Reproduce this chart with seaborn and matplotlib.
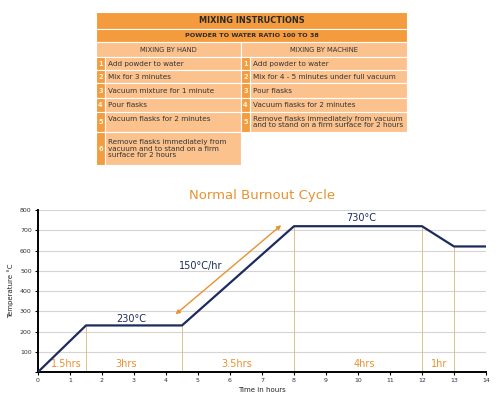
import matplotlib
matplotlib.use("Agg")
import matplotlib.pyplot as plt
import pandas as pd
import seaborn as sns
from matplotlib.patches import Rectangle

# burnout cycle data
time_hrs = [0, 1.5, 4.5, 8, 12, 13, 14]
temp_c = [0, 230, 230, 720, 720, 620, 620]
stage_edges = [1.5, 4.5, 8, 12, 13]
stage_labels = ["1.5hrs", "3hrs", "3.5hrs", "4hrs", "1hr"]
stage_label_x = [0.9, 2.75, 6.2, 10.2, 12.55]
point_labels = ["230°C", "730°C", "150°C/hr"]
point_label_xy = [(2.9, 262), (10.1, 762), (5.1, 525)]
arrow_from = (4.3, 285)
arrow_to = (7.6, 725)

# mixing instructions table
by_hand = ["Add powder to water", "Mix for 3 minutes", "Vacuum mixture for 1 minute",
           "Pour flasks", "Vacuum flasks for 2 minutes",
           "Remove flasks immediately from\nvacuum and to stand on a firm\nsurface for 2 hours"]
by_machine = ["Add powder to water", "Mix for 4 - 5 minutes under full vacuum", "Pour flasks",
              "Vacuum flasks for 2 minutes",
              "Remove flasks immediately from vacuum\nand to stand on a firm surface for 2 hours"]

NAVY = "#1c2a5e"
ORANGE = "#e8922f"
TAN = "#dcc08c"
HEAD = "#f39b3d"
PEACH = "#fbc28e"
NUMC = "#f49c40"

sns.set_theme(style="white")
plt.rcParams["font.family"] = ["DejaVu Sans"]

fig = plt.figure(figsize=(5, 4.01), dpi=100)

# ---- table drawn with patches, coordinates in pixels
tab = fig.add_axes([0.192, 0.5885, 0.622, 0.3815])
tab.set_xlim(0, 311)
tab.set_ylim(153, 0)
tab.axis("off")

def cell(x0, y0, w, h, color):
    tab.add_patch(Rectangle((x0, y0), w, h, facecolor=color, edgecolor="white", lw=0.8))

cell(0, 0, 311, 17, HEAD)
tab.text(155.5, 8.5, "MIXING INSTRUCTIONS", ha="center", va="center", fontsize=5.9,
         fontweight="bold", color="#2a2a2a")
cell(0, 17, 311, 13, HEAD)
tab.text(155.5, 23.5, "POWDER TO WATER RATIO 100 TO 38", ha="center", va="center",
         fontsize=4.6, fontweight="bold", color="#2a2a2a")
cell(0, 30, 145, 15, PEACH)
cell(145, 30, 166, 15, PEACH)
tab.text(72.5, 37.5, "MIXING BY HAND", ha="center", va="center", fontsize=4.9, color="#333333")
tab.text(228, 37.5, "MIXING BY MACHINE", ha="center", va="center", fontsize=4.9, color="#333333")

row_tops = [45, 58, 71, 86, 100, 120]
row_h = [13, 13, 15, 14, 20, 33]
for col_x, col_w, items in [(0, 145, by_hand), (145, 166, by_machine)]:
    for i, txt in enumerate(items):
        y0, h = row_tops[i], row_h[i]
        cell(col_x, y0, 9, h, NUMC)
        cell(col_x + 9, y0, col_w - 9, h, PEACH)
        tab.text(col_x + 4.5, y0 + h / 2, str(i + 1), ha="center", va="center",
                 fontsize=4.8, fontweight="bold", color="#fff3d6")
        nl = txt.count("\n") + 1
        ty = y0 + h / 2 if nl > 1 or h < 16 else y0 + 6.5
        tab.text(col_x + 12, ty, txt, ha="left", va="center", fontsize=5.2,
                 color="#333333", linespacing=1.1)

# ---- burnout chart
ax = fig.add_axes([0.076, 0.0723, 0.896, 0.404])
df = pd.DataFrame({"time": time_hrs, "temp": temp_c})
sns.lineplot(data=df, x="time", y="temp", ax=ax, color=NAVY, lw=1.6, zorder=4)

for xe in stage_edges:
    ax.plot([xe, xe], [0, df.temp[df.time == xe].iloc[0]], color=TAN, lw=0.7, zorder=2)

for lbl, lx in zip(stage_labels, stage_label_x):
    ax.text(lx, 40, lbl, ha="center", va="center", fontsize=7, color=ORANGE)

for lbl, (lx, ly) in zip(point_labels, point_label_xy):
    ax.text(lx, ly, lbl, ha="center", va="center", fontsize=7, color=NAVY)

ax.annotate("", xy=arrow_to, xytext=arrow_from,
            arrowprops=dict(arrowstyle="<|-|>", color=ORANGE, lw=1.0,
                            mutation_scale=6, shrinkA=0, shrinkB=0))

ax.set_xlim(0, 14)
ax.set_ylim(0, 800)
ax.set_xticks(range(0, 15))
ax.set_yticks(range(0, 801, 100))
ax.set_yticklabels([""] + [str(v) for v in range(100, 801, 100)])
ax.yaxis.grid(True, color="#d4d4d4", lw=0.8)
ax.set_axisbelow(True)
for s in ["top", "right"]:
    ax.spines[s].set_visible(False)
for s in ["left", "bottom"]:
    ax.spines[s].set_color("black")
    ax.spines[s].set_linewidth(1.4)
ax.tick_params(axis="both", labelsize=4.5, length=2.5, width=0.8, pad=2,
               colors="black", labelcolor="#333333", bottom=True, left=True)
ax.set_xlabel("Time in hours", fontsize=5, color="#222222", labelpad=3)
ax.set_ylabel("Temperature °C", fontsize=5, color="#222222", labelpad=4)
ax.set_title("Normal Burnout Cycle", fontsize=9.5, color=ORANGE, pad=8)

fig.savefig("out.png", dpi=100)
